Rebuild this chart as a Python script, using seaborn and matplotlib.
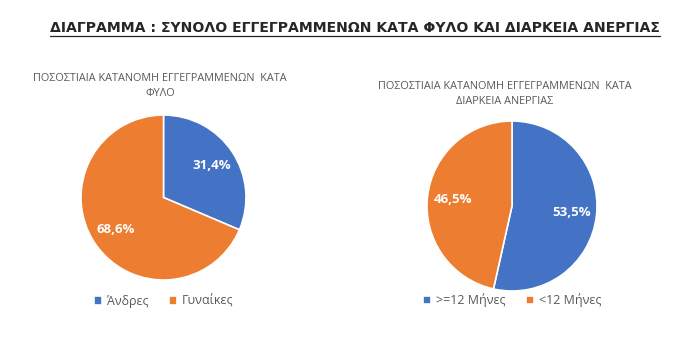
import matplotlib
matplotlib.use("Agg")
import matplotlib.pyplot as plt
import seaborn as sns

# data
sex_labels = ["Άνδρες", "Γυναίκες"]
sex_values = [31.4, 68.6]
dur_labels = [">=12 Μήνες", "<12 Μήνες"]
dur_values = [53.5, 46.5]

main_title = "ΔΙΑΓΡΑΜΜΑ : ΣΥΝΟΛΟ ΕΓΓΕΓΡΑΜΜΕΝΩΝ ΚΑΤΑ ΦΥΛΟ ΚΑΙ ΔΙΑΡΚΕΙΑ ΑΝΕΡΓΙΑΣ"
sex_title = "ΠΟΣΟΣΤΙΑΙΑ ΚΑΤΑΝΟΜΗ ΕΓΓΕΓΡΑΜΜΕΝΩΝ  ΚΑΤΑ\nΦΥΛΟ"
dur_title = "ΠΟΣΟΣΤΙΑΙΑ ΚΑΤΑΝΟΜΗ ΕΓΓΕΓΡΑΜΜΕΝΩΝ  ΚΑΤΑ\nΔΙΑΡΚΕΙΑ ΑΝΕΡΓΙΑΣ"

sns.set_theme(style="white")
plt.rcParams["font.family"] = ["Open Sans", "DejaVu Sans"]
pal = sns.color_palette(["#4472C4", "#ED7D31"])


def fmt(p):
    return f"{p:.1f}%".replace(".", ",")


def draw_pie(ax, values, labels, title, title_x, title_y, leg_y):
    wedges, _, autotexts = ax.pie(
        values, colors=pal, startangle=90, counterclock=False,
        autopct=fmt, pctdistance=0.7,
        wedgeprops=dict(edgecolor="white", linewidth=1.2),
        textprops=dict(color="white", fontsize=9.5, fontweight="bold"))
    ax.set_xlim(-1, 1)
    ax.set_ylim(-1, 1)
    ax.set_aspect("equal")
    ax.figure.text(title_x, title_y, title, ha="center", va="top",
                   fontsize=7.8, color="#595959", linespacing=1.45)
    ax.legend(wedges, labels, loc="center", bbox_to_anchor=(0.5, leg_y),
              ncol=2, frameon=False, fontsize=9, handlelength=0.65,
              handleheight=0.65, handletextpad=0.4, columnspacing=1.6,
              labelcolor="#595959")


fig = plt.figure(figsize=(7, 3.52), dpi=100)

ax1 = fig.add_axes([81 / 700, (352 - 280) / 352, 165 / 700, 165 / 352])
draw_pie(ax1, sex_values, sex_labels, sex_title, 160 / 700, 1 - 73 / 352, -0.13)

ax2 = fig.add_axes([427 / 700, (352 - 291) / 352, 170 / 700, 170 / 352])
draw_pie(ax2, dur_values, dur_labels, dur_title, 505 / 700, 1 - 81 / 352, -0.055)

t = fig.text(0.507, 1 - 28 / 352, main_title, ha="center", va="center",
             fontsize=10.1, fontweight="bold", color="#262626",
             family=["DejaVu Sans"])
fig.canvas.draw()
bb = t.get_window_extent().transformed(fig.transFigure.inverted())
fig.add_artist(plt.Line2D([bb.x0, bb.x1], [bb.y0 - 0.004, bb.y0 - 0.004],
                          color="#262626", linewidth=0.9,
                          transform=fig.transFigure))

fig.savefig("out.png", dpi=100, facecolor="white")
